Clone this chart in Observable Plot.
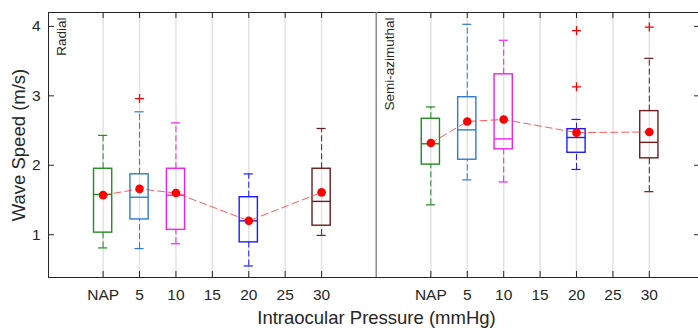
<!DOCTYPE html>
<html>
<head>
<meta charset="utf-8">
<script src="https://cdn.jsdelivr.net/npm/d3@7"></script>
<script src="https://cdn.jsdelivr.net/npm/@observablehq/plot@0.6"></script>
<style>
  html, body { margin: 0; padding: 0; background: #fff; }
  #chart svg { display: block; }
</style>
</head>
<body>
<div id="chart"></div>
<script>
// ---- data ----
const categories = ["NAP", "5", "10", "15", "20", "25", "30"];
const panels = ["Radial", "Semi-azimuthal"];
const boxCategories = ["NAP", "5", "10", "20", "30"];
const boxColors = ["#228b22", "#2e7dd2", "#ee22ee", "#1c1cff", "#6e1c1c"];
const yTicks = [1, 2, 3, 4];

// Radial
const radialLow    = [0.81, 0.80, 0.87, 0.55, 0.99];
const radialQ1     = [1.03, 1.22, 1.07, 0.89, 1.13];
const radialMedian = [1.58, 1.54, 1.57, 1.20, 1.48];
const radialQ3     = [1.95, 1.87, 1.95, 1.54, 1.95];
const radialHigh   = [2.43, 2.77, 2.61, 1.875, 2.53];
const radialMean   = [1.57, 1.66, 1.60, 1.20, 1.61];
const radialOutlierCats   = ["5"];
const radialOutlierValues = [2.96];

// Semi-azimuthal
const semiLow    = [1.43, 1.79, 1.76, 1.94, 1.62];
const semiQ1     = [2.01, 2.08, 2.23, 2.18, 2.10];
const semiMedian = [2.31, 2.51, 2.38, 2.40, 2.33];
const semiQ3     = [2.67, 2.98, 3.31, 2.52, 2.78];
const semiHigh   = [2.84, 4.03, 3.80, 2.66, 3.54];
const semiMean   = [2.32, 2.63, 2.66, 2.47, 2.48];
const semiOutlierCats   = ["20", "20", "30"];
const semiOutlierValues = [3.94, 3.13, 3.99];

// ---- layout ----
const slotsPerPanel = 9;           // each panel spans 9 category slots
const yDomain = [0.384, 4.2];
const xDomain = [-1.5, 16.35];
const boxHalf = 0.25, capHalf = 0.125;

const panelData = [
  {low: radialLow, q1: radialQ1, med: radialMedian, q3: radialQ3, high: radialHigh, mean: radialMean,
   oc: radialOutlierCats, ov: radialOutlierValues},
  {low: semiLow, q1: semiQ1, med: semiMedian, q3: semiQ3, high: semiHigh, mean: semiMean,
   oc: semiOutlierCats, ov: semiOutlierValues}
];

const stats = [], outliers = [], gridRows = [], panelRows = [];
panels.forEach((panel, p) => {
  const d = panelData[p];
  const off = p * slotsPerPanel;
  panelRows.push({panel, left: off + xDomain[0]});
  categories.forEach((c, i) => gridRows.push({pos: off + i, label: c}));
  boxCategories.forEach((c, i) => {
    stats.push({panel, cat: c, pos: off + categories.indexOf(c), color: boxColors[i],
      low: d.low[i], q1: d.q1[i], med: d.med[i], q3: d.q3[i], high: d.high[i], mean: d.mean[i]});
  });
  d.oc.forEach((c, i) => outliers.push({panel, pos: off + categories.indexOf(c), value: d.ov[i]}));
});

const plusSymbol = {
  draw(context, size) {
    const r = Math.sqrt(size / Math.PI);
    context.moveTo(-r, 0); context.lineTo(r, 0);
    context.moveTo(0, -r); context.lineTo(0, r);
  }
};

const W = 698, H = 328, mT = 12, mB = 51, mL = 48, mR = 0;
const frameH = H - mT - mB;
const ink = "#262626";
const font = "'Liberation Sans', Arial, Helvetica, sans-serif";

const chart = Plot.plot({
  width: W, height: H,
  marginTop: mT, marginBottom: mB, marginLeft: mL, marginRight: mR,
  style: {fontFamily: font, color: ink, background: "#fff", overflow: "visible"},
  x: {type: "linear", domain: xDomain, axis: null},
  y: {type: "linear", domain: yDomain, axis: null},
  marks: [
    // vertical grid
    Plot.ruleX(gridRows, {x: "pos", stroke: "#e3e3e3", strokeWidth: 1.5}),
    // whiskers
    Plot.ruleX(stats, {x: "pos", y1: "q3", y2: "high", stroke: "color", strokeWidth: 1, strokeDasharray: "6,3"}),
    Plot.ruleX(stats, {x: "pos", y1: "low", y2: "q1", stroke: "color", strokeWidth: 1, strokeDasharray: "6,3"}),
    Plot.ruleY(stats, {y: "high", x1: d => d.pos - capHalf, x2: d => d.pos + capHalf, stroke: "color", strokeWidth: 1.2}),
    Plot.ruleY(stats, {y: "low", x1: d => d.pos - capHalf, x2: d => d.pos + capHalf, stroke: "color", strokeWidth: 1.2}),
    // boxes
    Plot.rect(stats, {x1: d => d.pos - boxHalf, x2: d => d.pos + boxHalf, y1: "q1", y2: "q3",
      fill: "none", stroke: "color", strokeWidth: 1.4}),
    Plot.ruleY(stats, {y: "med", x1: d => d.pos - boxHalf, x2: d => d.pos + boxHalf, stroke: "color", strokeWidth: 1.4}),
    // mean line + dots
    Plot.line(stats, {x: "pos", y: "mean", z: "panel", stroke: "#ff3030", strokeOpacity: 0.8,
      strokeWidth: 1, strokeDasharray: "7,4"}),
    Plot.dot(stats, {x: "pos", y: "mean", r: 4.3, fill: "#ff0000", stroke: "none"}),
    // outliers
    Plot.dot(outliers, {x: "pos", y: "value", r: 4.5, symbol: plusSymbol, fill: "none", stroke: "#ff0000", strokeWidth: 1.3}),
    // frame
    Plot.frame({stroke: ink, insetRight: -3}),
    Plot.ruleX(panelRows.slice(1), {x: "left", stroke: "#8c8c8c", strokeWidth: 1.5}),
    // inward ticks
    Plot.ruleX(gridRows, {x: "pos", stroke: ink, insetBottom: frameH - 6}),
    Plot.ruleX(gridRows, {x: "pos", stroke: ink, insetTop: frameH - 6}),
    Plot.ruleY(yTicks, {y: d => d, x1: xDomain[0], x2: xDomain[0], insetRight: -6, stroke: ink}),
    Plot.ruleY(yTicks, {y: d => d, x1: xDomain[1], x2: xDomain[1], insetLeft: -4, stroke: ink}),
    // tick labels
    Plot.text(gridRows, {x: "pos", text: "label", frameAnchor: "bottom", lineAnchor: "top", dy: 11,
      fontSize: 15.5, fill: ink}),
    Plot.text(yTicks, {y: d => d, text: d => String(d), frameAnchor: "left", textAnchor: "end", dx: -8,
      fontSize: 15.5, fill: ink}),
    // panel labels
    Plot.text(panelRows, {x: "left", text: "panel", frameAnchor: "top", rotate: -90, textAnchor: "end",
      lineAnchor: "top", dx: 8, dy: 5, fontSize: 13.5, fill: ink}),
    // axis titles
    Plot.text(["Wave Speed (m/s)"], {frameAnchor: "left", rotate: -90, textAnchor: "middle", lineAnchor: "top",
      dx: -37, fontSize: 18.5, fill: ink}),
    Plot.text(["Intraocular Pressure (mmHg)"], {frameAnchor: "bottom", textAnchor: "middle", lineAnchor: "top",
      dy: 33, dx: 3, fontSize: 18.5, fill: ink})
  ]
});
document.getElementById("chart").appendChild(chart);
</script>
</body>
</html>
